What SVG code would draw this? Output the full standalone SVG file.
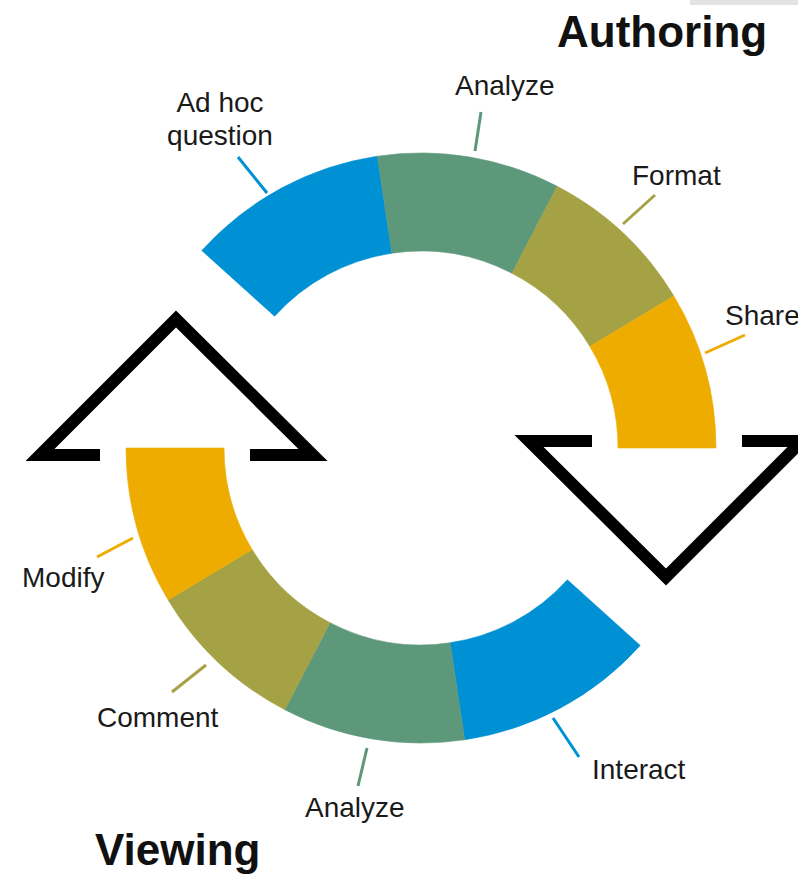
<svg xmlns="http://www.w3.org/2000/svg" width="798" height="884" viewBox="0 0 798 884">
<style>
.lbl{font-family:"Liberation Sans",Arial,sans-serif;font-size:28px;fill:#1a1a1a}
.ttl{font-family:"Liberation Sans",Arial,sans-serif;font-size:44px;font-weight:bold;fill:#111}
.blue{fill:#0090d4;stroke:#0090d4;stroke-width:0.6}
.green{fill:#5e987b;stroke:#5e987b;stroke-width:0.6}
.olive{fill:#a5a245;stroke:#a5a245;stroke-width:0.6}
.orange{fill:#efac00;stroke:#efac00;stroke-width:0.6}
.tri{fill:none;stroke:#000;stroke-width:12;stroke-linejoin:miter;stroke-miterlimit:10;stroke-linecap:butt}
.ld{fill:none;stroke-width:3}
</style>
<rect x="690" y="0" width="108" height="5" fill="#e2e2e2"/>
<g id="authoring-arc">
<path id="seg-adhoc" class="blue" d="M201.8,250.6 A295,295 0 0 1 377.4,156.2 L391.9,253.2 A197,197 0 0 0 274.6,316.2 Z"/>
<path id="seg-analyze-top" class="green" d="M377.4,156.2 A295,295 0 0 1 557.2,186.3 L512.0,273.3 A197,197 0 0 0 391.9,253.2 Z"/>
<path id="seg-format" class="olive" d="M557.2,186.3 A295,295 0 0 1 673.9,296.1 L589.9,346.5 A197,197 0 0 0 512.0,273.3 Z"/>
<path id="seg-share" class="orange" d="M673.9,296.1 A295,295 0 0 1 716,448 L618,448 A197,197 0 0 0 589.9,346.5 Z"/>
</g>
<g id="viewing-arc">
<path id="seg-interact" class="blue" d="M640.2,645.4 A295,295 0 0 1 464.6,739.8 L450.1,642.8 A197,197 0 0 0 567.4,579.8 Z"/>
<path id="seg-analyze-bottom" class="green" d="M464.6,739.8 A295,295 0 0 1 284.8,709.7 L330.0,622.7 A197,197 0 0 0 450.1,642.8 Z"/>
<path id="seg-comment" class="olive" d="M284.8,709.7 A295,295 0 0 1 168.1,599.9 L252.1,549.5 A197,197 0 0 0 330.0,622.7 Z"/>
<path id="seg-modify" class="orange" d="M168.1,599.9 A295,295 0 0 1 126,448 L224,448 A197,197 0 0 0 252.1,549.5 Z"/>
</g>
<g id="arrow-up">
<path class="tri" d="M100,455 H40 L176,319 L313,455 H250"/>
</g>
<g id="arrow-down">
<path class="tri" d="M742,441 H802 L666,577 L529,441 H592"/>
</g>
<g id="connectors">
<line class="ld" stroke="#0090d4" x1="238" y1="157" x2="267" y2="193"/>
<line class="ld" stroke="#5e987b" x1="481" y1="112" x2="475" y2="151"/>
<line class="ld" stroke="#a5a245" x1="655" y1="195" x2="623" y2="224"/>
<line class="ld" stroke="#efac00" x1="745" y1="335" x2="705" y2="353"/>
<line class="ld" stroke="#efac00" x1="133" y1="538" x2="97" y2="557"/>
<line class="ld" stroke="#a5a245" x1="206" y1="665" x2="172" y2="692"/>
<line class="ld" stroke="#5e987b" x1="367" y1="748" x2="358" y2="786"/>
<line class="ld" stroke="#0090d4" x1="553" y1="718" x2="579" y2="757"/>
</g>
<g id="labels">
<text class="ttl" x="557" y="47">Authoring</text>
<text class="ttl" x="95" y="865">Viewing</text>
<text class="lbl" x="220" y="112" text-anchor="middle">Ad hoc</text>
<text class="lbl" x="220" y="145" text-anchor="middle">question</text>
<text class="lbl" x="455" y="95">Analyze</text>
<text class="lbl" x="632" y="185">Format</text>
<text class="lbl" x="725" y="325">Share</text>
<text class="lbl" x="22" y="587">Modify</text>
<text class="lbl" x="97" y="727">Comment</text>
<text class="lbl" x="305" y="817">Analyze</text>
<text class="lbl" x="592" y="779">Interact</text>
</g>
</svg>
